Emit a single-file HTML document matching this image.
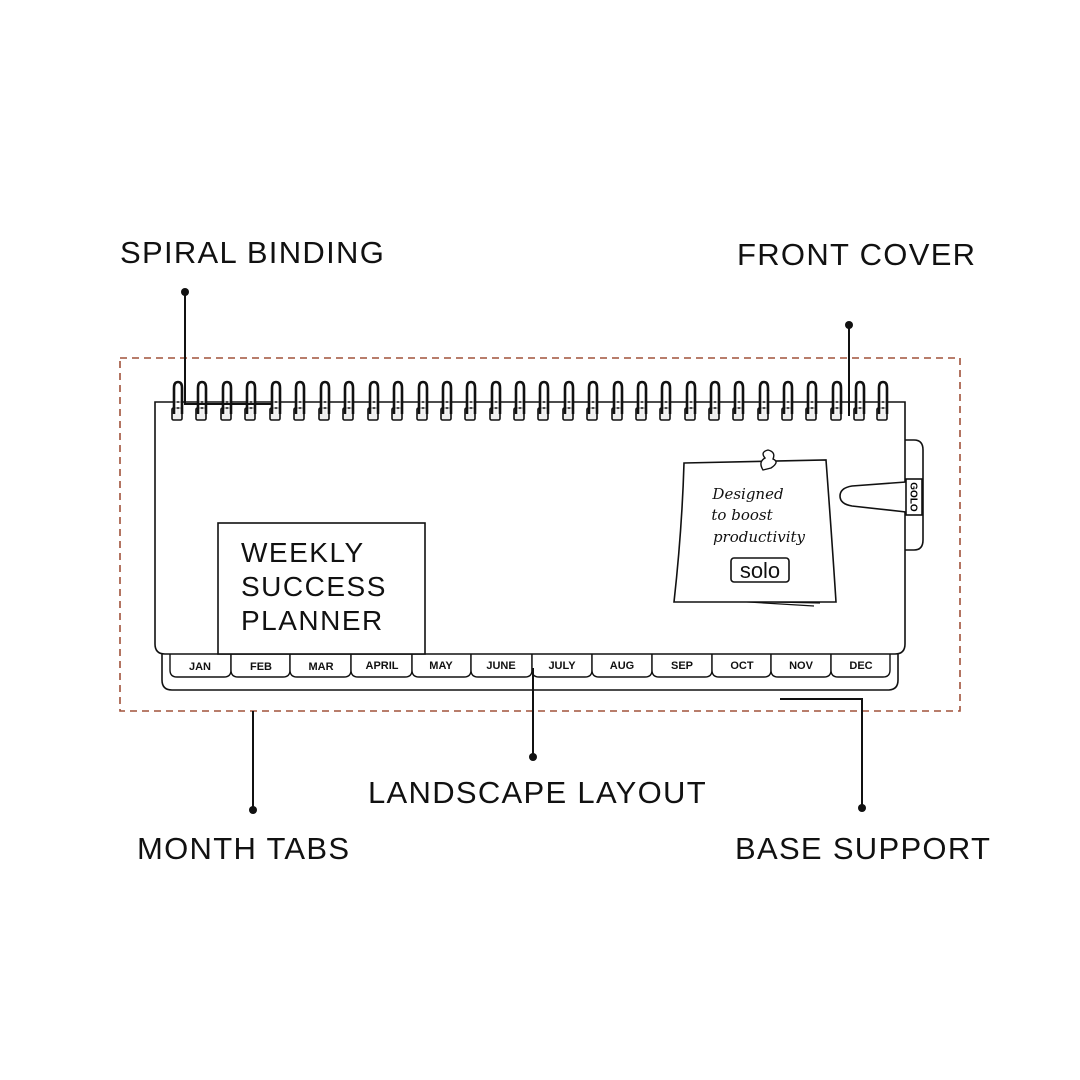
<!DOCTYPE html>
<html><head><meta charset="utf-8"><style>
html,body{margin:0;padding:0;background:#fff;}
svg{display:block;}
.lbl{font-family:"Liberation Sans",sans-serif;font-size:31px;fill:#111;letter-spacing:1.3px;}
.m{font-family:"Liberation Sans",sans-serif;font-size:11px;font-weight:bold;fill:#111;text-anchor:middle;}
</style></head><body>
<svg width="1080" height="1080" viewBox="0 0 1080 1080" xmlns="http://www.w3.org/2000/svg">
<defs>
<g id="coil">
<rect x="-5" y="408" width="10" height="12" rx="1.5" fill="#eee" stroke="#111" stroke-width="1.6"/>
<path d="M-3 414 L-3 388 Q-3 382 1 382 Q5 382 5 388 L5 414" fill="none" stroke="#111" stroke-width="2.6"/>
<path d="M-1 414 L-1 389 Q-1 385 1 385 Q3 385 3 389 L3 414" fill="none" stroke="#fff" stroke-width="1"/>
</g>
</defs>
<rect x="120" y="358" width="840" height="353" fill="none" stroke="#a0523a" stroke-width="1.6" stroke-dasharray="7,5"/>
<path d="M162 652 L162 680 Q162 690 172 690 L888 690 Q898 690 898 680 L898 652" fill="#fff" stroke="#111" stroke-width="1.6"/>
<g fill="#fff" stroke="#111" stroke-width="1.4">
<path d="M170 654 V670 Q170 677 177 677 H224 Q231 677 231 670 V654"/>
<path d="M231 654 V670 Q231 677 238 677 H283 Q290 677 290 670 V654"/>
<path d="M290 654 V670 Q290 677 297 677 H344 Q351 677 351 670 V654"/>
<path d="M351 654 V670 Q351 677 358 677 H405 Q412 677 412 670 V654"/>
<path d="M412 654 V670 Q412 677 419 677 H464 Q471 677 471 670 V654"/>
<path d="M471 654 V670 Q471 677 478 677 H525 Q532 677 532 670 V654"/>
<path d="M532 654 V670 Q532 677 539 677 H585 Q592 677 592 670 V654"/>
<path d="M592 654 V670 Q592 677 599 677 H645 Q652 677 652 670 V654"/>
<path d="M652 654 V670 Q652 677 659 677 H705 Q712 677 712 670 V654"/>
<path d="M712 654 V670 Q712 677 719 677 H764 Q771 677 771 670 V654"/>
<path d="M771 654 V670 Q771 677 778 677 H824 Q831 677 831 670 V654"/>
<path d="M831 654 V670 Q831 677 838 677 H883 Q890 677 890 670 V654"/>
</g>
<g>
<text class="m" x="200" y="670">JAN</text><text class="m" x="261" y="670">FEB</text>
<text class="m" x="321" y="670">MAR</text><text class="m" x="382" y="669">APRIL</text>
<text class="m" x="441" y="669">MAY</text><text class="m" x="501" y="669">JUNE</text>
<text class="m" x="562" y="669">JULY</text><text class="m" x="622" y="669">AUG</text>
<text class="m" x="682" y="669">SEP</text><text class="m" x="742" y="669">OCT</text>
<text class="m" x="801" y="669">NOV</text><text class="m" x="861" y="669">DEC</text>
</g>
<path d="M905 440 H914 Q923 440 923 450 V540 Q923 550 914 550 H905" fill="#fff" stroke="#111" stroke-width="1.6"/>
<path d="M155 402 H905 V644 Q905 654 895 654 H165 Q155 654 155 644 Z" fill="#fff" stroke="#111" stroke-width="1.6"/>
<path d="M906 482 L852 486 Q840 488 840 496 Q840 504 852 506 L906 512" fill="#fff" stroke="#111" stroke-width="1.6"/>
<rect x="906" y="479" width="16" height="36" fill="#fff" stroke="#111" stroke-width="1.6"/>
<text x="914" y="497" font-family="Liberation Sans,sans-serif" font-size="10" font-weight="bold" text-anchor="middle" transform="rotate(90 914 497)" dy="3.5">GOLO</text>
<rect x="218" y="523" width="207" height="131" fill="#fff" stroke="#111" stroke-width="1.6"/>
<text font-family="Liberation Sans,sans-serif" font-size="28" fill="#111" letter-spacing="1.5">
<tspan x="241" y="562">WEEKLY</tspan><tspan x="241" y="596">SUCCESS</tspan><tspan x="241" y="630">PLANNER</tspan></text>
<path d="M682 598 L814 606" stroke="#111" stroke-width="1.2"/>
<path d="M680 600 L820 603" stroke="#111" stroke-width="1.2"/>
<path d="M684 463 L826 460 Q832 540 836 602 L674 602 Q682 530 684 463 Z" fill="#fff" stroke="#111" stroke-width="1.6"/>
<path d="M763 470 Q758 462 765 458 Q760 452 768 450 Q776 452 773 459 Q780 462 771 468 Z" fill="#fff" stroke="#111" stroke-width="1.4"/>
<text font-family="DejaVu Serif,serif" font-style="italic" font-size="15" fill="#111" text-anchor="middle">
<tspan x="748" y="499">Designed</tspan><tspan x="742" y="520">to boost</tspan><tspan x="759" y="542">productivity</tspan></text>
<rect x="731" y="558" width="58" height="24" rx="3" fill="#fff" stroke="#111" stroke-width="1.6"/>
<text x="760" y="578" font-family="Liberation Sans,sans-serif" font-size="22" text-anchor="middle" fill="#111">solo</text>
<g>
<use href="#coil" x="177"/><use href="#coil" x="201"/><use href="#coil" x="226"/><use href="#coil" x="250"/><use href="#coil" x="275"/>
<use href="#coil" x="299"/><use href="#coil" x="324"/><use href="#coil" x="348"/><use href="#coil" x="373"/><use href="#coil" x="397"/>
<use href="#coil" x="422"/><use href="#coil" x="446"/><use href="#coil" x="470"/><use href="#coil" x="495"/><use href="#coil" x="519"/>
<use href="#coil" x="543"/><use href="#coil" x="568"/><use href="#coil" x="592"/><use href="#coil" x="617"/><use href="#coil" x="641"/>
<use href="#coil" x="665"/><use href="#coil" x="690"/><use href="#coil" x="714"/><use href="#coil" x="738"/><use href="#coil" x="763"/>
<use href="#coil" x="787"/><use href="#coil" x="811"/><use href="#coil" x="836"/><use href="#coil" x="859"/><use href="#coil" x="882"/>
</g>
<g stroke="#111" stroke-width="2" fill="none">
<path d="M185 292 V404 H272"/>
<path d="M849 325 V416"/>
<path d="M253 810 V711"/>
<path d="M533 757 V668"/>
<path d="M862 808 V699 H780"/>
</g>
<g fill="#111">
<circle cx="185" cy="292" r="4"/><circle cx="849" cy="325" r="4"/><circle cx="253" cy="810" r="4"/>
<circle cx="533" cy="757" r="4"/><circle cx="862" cy="808" r="4"/>
</g>
<text class="lbl" x="120" y="263">SPIRAL BINDING</text>
<text class="lbl" x="737" y="265">FRONT COVER</text>
<text class="lbl" x="368" y="803">LANDSCAPE LAYOUT</text>
<text class="lbl" x="137" y="859" letter-spacing="2.5">MONTH TABS</text>
<text class="lbl" x="735" y="859">BASE SUPPORT</text>
</svg>
</body></html>
